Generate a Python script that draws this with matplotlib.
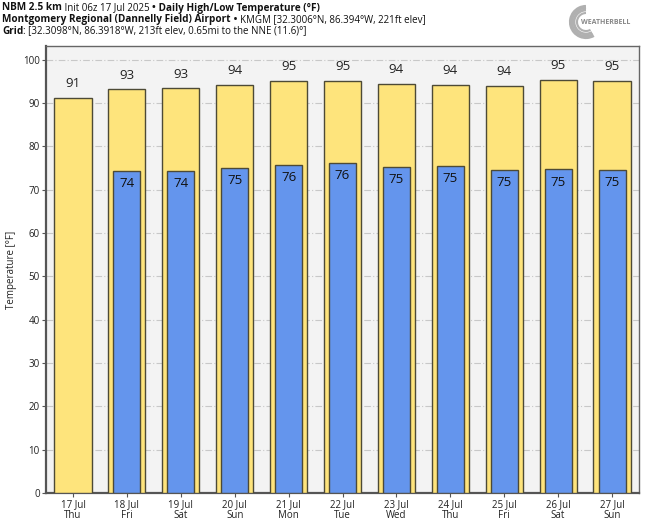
import matplotlib
matplotlib.use("Agg")
import matplotlib.pyplot as plt
from matplotlib.patches import Arc

dates = ["17 Jul", "18 Jul", "19 Jul", "20 Jul", "21 Jul", "22 Jul", "23 Jul", "24 Jul", "25 Jul", "26 Jul", "27 Jul"]
days = ["Thu", "Fri", "Sat", "Sun", "Mon", "Tue", "Wed", "Thu", "Fri", "Sat", "Sun"]
highs = [91.2, 93.2, 93.4, 94.2, 95.1, 95.1, 94.5, 94.3, 93.9, 95.3, 95.1]
high_labels = ["91", "93", "93", "94", "95", "95", "94", "94", "94", "95", "95"]
lows = [None, 74.4, 74.4, 75.1, 75.7, 76.1, 75.3, 75.5, 74.5, 74.7, 74.6]
low_labels = ["", "74", "74", "75", "76", "76", "75", "75", "75", "75", "75"]
yticks = [0, 10, 20, 30, 40, 50, 60, 70, 80, 90, 100]

plt.rcParams['font.family'] = ['Open Sans', 'DejaVu Sans']

fig = plt.figure(figsize=(6.48, 5.21), dpi=100)
ax = fig.add_axes([46/648, 1-493/521, 593/648, 447/521])
ax.set_facecolor('#f3f3f3')

x = list(range(len(dates)))
edge = '#4d4a36'
ax.bar(x, highs, width=0.69, color='#fee47c', edgecolor=edge, linewidth=1.0, zorder=3)
for i, (h, lab) in enumerate(zip(highs, high_labels)):
    ax.text(i, h + 1.8, lab, ha='center', va='bottom', fontsize=9.5, color='#222222', zorder=5)

lx = [i for i in x if lows[i] is not None]
lv = [lows[i] for i in lx]
ax.bar(lx, lv, width=0.5, color='#6495ed', edgecolor=edge, linewidth=1.0, zorder=4)
for i in lx:
    ax.text(i, lows[i] - 1.4, low_labels[i], ha='center', va='top', fontsize=9.5, color='#111111', zorder=5)

ax.set_xlim(-0.5, len(dates) - 0.5)
ax.set_ylim(0, 103.2)
ax.set_yticks(yticks)
ax.set_yticklabels([str(t) for t in yticks], fontsize=7, color='#222222')
ax.set_xticks(x)
ax.set_xticklabels([f"{d}\n{w}" for d, w in zip(dates, days)], fontsize=7, color='#222222', linespacing=1.0)
ax.tick_params(axis='both', length=3, color='#555555', width=0.8, pad=1.5)
ax.yaxis.grid(True, linestyle=(0, (6, 2, 1, 2)), color='#c8c8c8', linewidth=0.8, zorder=0)
ax.set_axisbelow(True)
for s in ['left', 'bottom']:
    ax.spines[s].set_color('#555555')
    ax.spines[s].set_linewidth(1.6)
for s in ['top', 'right']:
    ax.spines[s].set_color('#666666')
    ax.spines[s].set_linewidth(1.0)
ax.set_ylabel('Temperature [°F]', fontsize=7, color='#222222', labelpad=4)

# Header lines with mixed weights
fig.canvas.draw()
renderer = fig.canvas.get_renderer()

def header(y, parts):
    xpos = 2 / 648
    for txt, weight in parts:
        if weight == 'bold':
            stretch, size = 'condensed', 7.2
        else:
            stretch, size = 'semi-condensed', 7.0
        t = fig.text(xpos, y, txt, fontsize=size, fontweight=weight, ha='left', va='center',
                     color='#111111', fontstretch=stretch)
        bb = t.get_window_extent(renderer=renderer)
        xpos += bb.width / fig.bbox.width

header(1 - 8/521, [("NBM 2.5 km", 'bold'), (" Init 06z 17 Jul 2025 ", 'normal'), ("•", 'bold'),
                   (" Daily High/Low Temperature (°F)", 'bold')])
header(1 - 19.5/521, [("Montgomery Regional (Dannelly Field) Airport", 'bold'), (" • ", 'bold'),
                    ("KMGM [32.3006°N, 86.394°W, 221ft elev]", 'normal')])
header(1 - 31/521, [("Grid", 'bold'), (": [32.3098°N, 86.3918°W, 213ft elev, 0.65mi to the NNE (11.6)°]", 'normal')])

# Logo
lax = fig.add_axes([568/648, 1-42/521, 70/648, 40/521])
lax.set_xlim(0, 70); lax.set_ylim(0, 40); lax.axis('off')
for r, w in [(15, 3), (12, 2), (9, 1.5)]:
    lax.add_patch(Arc((18, 20), 2*r, 2*r, theta1=90, theta2=300, color='#b0b0b0', lw=w))
lax.text(38, 20, "WEATHERBELL", fontsize=5, color='#888888', ha='center', va='center', fontweight='bold')

fig.savefig('out.png', dpi=100)
